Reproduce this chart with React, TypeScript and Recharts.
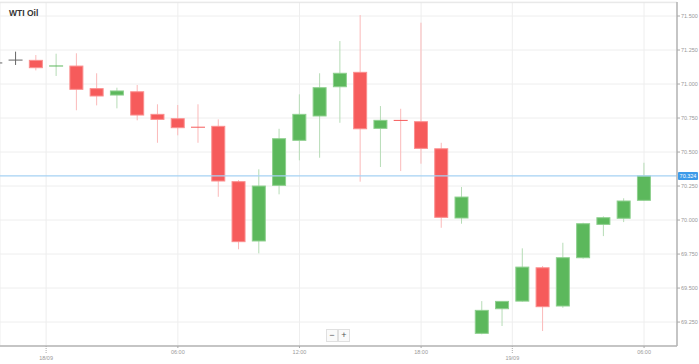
import React from 'react';
import { ComposedChart, Bar, XAxis, YAxis, CartesianGrid, ReferenceLine } from 'recharts';

const hours = ['20:00','21:00','22:00','00:00','01:00','02:00','03:00','04:00','05:00','06:00','07:00','08:00','09:00','10:00','11:00','12:00','13:00','14:00','15:00','16:00','17:00','18:00','19:00','20:00','21:00','22:00','00:00','01:00','02:00','03:00','04:00','05:00','06:00'];
const opens = [71.155, 71.176, 71.174, 71.130, 71.132, 70.966, 70.919, 70.943, 70.777, 70.745, 70.684, 70.689, 70.282, 69.846, 70.255, 70.586, 70.765, 70.980, 71.086, 70.674, 70.735, 70.723, 70.524, 70.015, 69.167, 69.348, 69.404, 69.649, 69.368, 69.723, 69.968, 70.013, 70.145];
const closes = [71.155, 71.176, 71.120, 71.135, 70.961, 70.912, 70.949, 70.772, 70.740, 70.679, 70.681, 70.287, 69.841, 70.250, 70.598, 70.777, 70.973, 71.079, 70.671, 70.733, 70.730, 70.527, 70.020, 70.169, 69.336, 69.402, 69.654, 69.363, 69.723, 69.973, 70.017, 70.140, 70.324];
const highs = [71.20, 71.238, 71.213, 71.223, 71.226, 71.079, 70.973, 70.993, 70.851, 70.846, 70.851, 70.740, 70.294, 70.373, 70.671, 70.924, 71.079, 71.316, 71.507, 70.838, 70.818, 71.451, 70.568, 70.243, 69.404, 69.402, 69.792, 69.662, 69.833, 69.980, 70.027, 70.160, 70.421];
const lows = [71.12, 71.140, 71.100, 71.059, 70.807, 70.843, 70.821, 70.733, 70.568, 70.623, 70.568, 70.171, 69.785, 69.755, 70.189, 70.439, 70.458, 70.715, 70.282, 70.390, 70.360, 70.414, 69.943, 69.973, 69.160, 69.221, 69.400, 69.184, 69.355, 69.716, 69.882, 69.985, 70.140];

const yTicks = [69.25, 69.5, 69.75, 70, 70.25, 70.5, 70.75, 71, 71.25, 71.5];
const xTickValues = [2.5, 9, 15, 21, 25.5, 32];
const xTickLabels: Record<string, string> = { '2.5': '18/09', '9': '06:00', '15': '12:00', '21': '18:00', '25.5': '19/09', '32': '06:00' };
const dateTicks = [2.5, 25.5];
const currentPrice = 70.324;
const currentLabel = '70.324';
const title = 'WTI Oil';

const data = hours.map((h, i) => ({
  i,
  hour: h,
  open: opens[i],
  close: closes[i],
  high: highs[i],
  low: lows[i],
}));

const RED = '#f65b5b';
const RED_EDGE = '#fb8f8f';
const RED_WICK = '#fbb9b9';
const GREEN = '#5cb85c';
const GREEN_EDGE = '#8fd08f';
const GREEN_WICK = '#b6dcb6';
const GRAY = '#666';

const Candle = (props: any) => {
  const { x, y, width, height, payload } = props;
  if (!payload || x == null || y == null) return null;
  const { open, close, high, low } = payload;
  const top = Math.min(y, y + height);
  const h = Math.abs(height);
  const ratio = h / (high - low);
  const yOf = (v: number) => top + (high - v) * ratio;
  const cx = x + width / 2;
  const up = close > open;
  const flat = close === open;
  const nearFlat = Math.abs(yOf(open) - yOf(close)) < 1.5;
  const bodyFill = flat ? GRAY : up ? GREEN : RED;
  const edge = flat ? GRAY : up ? GREEN_EDGE : RED_EDGE;
  const wick = flat ? GRAY : up ? GREEN_WICK : RED_WICK;
  const bTop = yOf(Math.max(open, close));
  const bBot = yOf(Math.min(open, close));
  return (
    <g>
      <line x1={cx} x2={cx} y1={yOf(high)} y2={yOf(low)} stroke={wick} strokeWidth={1} />
      {nearFlat ? (
        <line x1={x} x2={x + width} y1={(bTop + bBot) / 2} y2={(bTop + bBot) / 2} stroke={flat ? GRAY : bodyFill} strokeWidth={1} />
      ) : (
        <rect x={x + 0.5} y={bTop} width={width - 1} height={bBot - bTop} fill={bodyFill} stroke={edge} strokeWidth={1} />
      )}
    </g>
  );
};

const XTick = (props: any) => {
  const { x, y, payload } = props;
  const v = payload.value;
  const label = xTickLabels[String(v)] ?? '';
  const isDate = dateTicks.includes(v);
  if (isDate) {
    return (
      <g>
        <line x1={x} x2={x} y1={y} y2={y + 8} stroke="#aaa" strokeDasharray="1 1" />
        <text x={x} y={y + 14} textAnchor="middle" fontSize={5.5} fill="#999" fontFamily="Arial, sans-serif">{label}</text>
      </g>
    );
  }
  return (
    <g>
      <line x1={x} x2={x} y1={y} y2={y + 2} stroke="#aaa" />
      <text x={x} y={y + 8} textAnchor="middle" fontSize={5.5} fill="#999" fontFamily="Arial, sans-serif">{label}</text>
    </g>
  );
};

const PriceLabel = (props: any) => {
  const vb = props.viewBox;
  if (!vb) return null;
  const x0 = vb.x + vb.width + 1;
  const yc = vb.y;
  return (
    <g>
      <rect x={x0} y={yc - 4} width={20} height={8} rx={1} fill="#3d9be9" />
      <text x={x0 + 10} y={yc + 2} textAnchor="middle" fontSize={5.5} fill="#fff" fontFamily="Arial, sans-serif">{currentLabel}</text>
    </g>
  );
};

const btnStyle: React.CSSProperties = { width: 10, height: 11, border: '1px solid #e0e0e0', background: '#fafafa', fontSize: 9, lineHeight: '10px', textAlign: 'center', color: '#555', fontFamily: 'Arial, sans-serif' };

export default function App() {
  return (
    <div style={{ position: 'absolute', left: 0, top: 0, width: 699, height: 364, background: '#fff', fontFamily: 'Arial, sans-serif' }}>
      <ComposedChart width={699} height={364} data={data} margin={{ top: 2, right: 0, bottom: 0, left: 0 }}>
        <CartesianGrid stroke="#eeeeee" strokeWidth={1} />
        <XAxis
          dataKey="i"
          type="number"
          domain={[0.225, 33.625]}
          allowDataOverflow
          ticks={xTickValues}
          interval={0}
          height={18}
          tickSize={0}
          tickMargin={0}
          tickLine={false}
          tick={<XTick />}
          axisLine={{ stroke: '#b5b5b5', strokeWidth: 1.5 }}
        />
        <YAxis
          orientation="right"
          type="number"
          domain={[69.074, 71.603]}
          allowDataOverflow
          ticks={yTicks}
          interval={0}
          width={22}
          tickSize={3}
          tickMargin={1}
          tickFormatter={(v: number) => v.toFixed(3)}
          tick={{ fontSize: 5.5, fill: '#999', fontFamily: 'Arial, sans-serif' }}
          tickLine={{ stroke: '#aaa' }}
          axisLine={{ stroke: '#b5b5b5', strokeWidth: 1.5 }}
        />
        <ReferenceLine y={71.598} stroke="#e6e6e6" />
        <Bar
          dataKey={(d: any) => [d.low, d.high]}
          barSize={14}
          shape={<Candle />}
          isAnimationActive={false}
        />
        <ReferenceLine y={currentPrice} stroke="#a6d2f3" strokeWidth={1.2} label={<PriceLabel />} />
      </ComposedChart>
      <div style={{ position: 'absolute', left: 9, top: 8, fontSize: 8.5, fontWeight: 'bold', color: '#333', fontFamily: 'Arial, sans-serif' }}>{title}</div>
      <div style={{ position: 'absolute', left: 326, top: 329, display: 'flex', gap: 0 }}>
        <div style={btnStyle}>−</div>
        <div style={btnStyle}>+</div>
      </div>
    </div>
  );
}
